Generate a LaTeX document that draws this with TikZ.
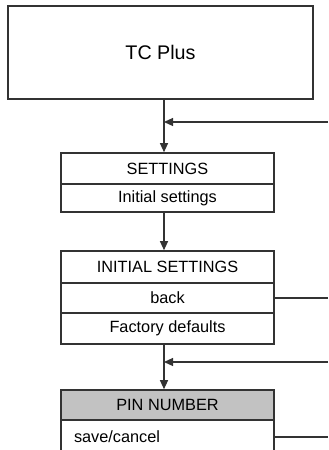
\documentclass[tikz,border=0pt]{standalone}
\usepackage{fontspec}
\setmainfont{Liberation Sans}
\usetikzlibrary{arrows.meta,positioning}
\definecolor{borde}{HTML}{333333}
\definecolor{grispin}{HTML}{C2C2C2}
\tikzset{
  caja/.style={draw=borde,fill=white,line width=0.8pt,inner sep=0pt,align=center},
  fila/.style={caja,minimum width=106.5pt,font=\fontsize{8.15}{9.5}\selectfont},
  filagris/.style={fila,fill=grispin},
  linea/.style={draw=borde,line width=0.6pt},
  flecha/.style={linea,-{Triangle[length=4.5pt,width=4pt]}},
}
\begin{document}
\begin{tikzpicture}[x=0.5pt,y=-0.5pt]
  \clip (0,0) rectangle (328,450);
  \node[caja,minimum width=152.5pt,minimum height=46.5pt,font=\fontsize{9.85}{11}\selectfont] (tc) at (160.5,52.5) {TC Plus};
  \node[fila,minimum height=15.5pt] (settings) at (167.5,168.5) {SETTINGS};
  \node[fila,minimum height=14pt] (initial) at (167.5,198) {Initial settings};
  \node[fila,minimum height=16pt] (initset) at (167.5,267) {INITIAL SETTINGS};
  \node[fila,minimum height=15pt] (back) at (167.5,298) {back};
  \node[fila,minimum height=15.5pt] (factory) at (167.5,328.5) {Factory defaults};
  \node[filagris,minimum height=15pt] (pin) at (167.5,405) {PIN NUMBER};
  \node[fila,minimum height=17pt,text width=93.5pt,inner xsep=6.5pt,align=left] (save) at (167.5,437) {save/cancel};
  \coordinate (eje) at (164,0);
  \coordinate (ret1) at (328,122);
  \coordinate (ret2) at (328,362);
  % flujo principal
  \draw[flecha] (tc.south -| eje) -- (settings.north -| eje);
  \draw[flecha] (initial.south -| eje) -- (initset.north -| eje);
  \draw[flecha] (factory.south -| eje) -- (pin.north -| eje);
  % retornos
  \draw[flecha] (ret1) -- (ret1 -| eje);
  \draw[flecha] (ret2) -- (ret2 -| eje);
  \draw[linea] (back.east) -- (back.east -| ret1);
  \draw[linea] (save.east) -- (save.east -| ret1);
\end{tikzpicture}
\end{document}
